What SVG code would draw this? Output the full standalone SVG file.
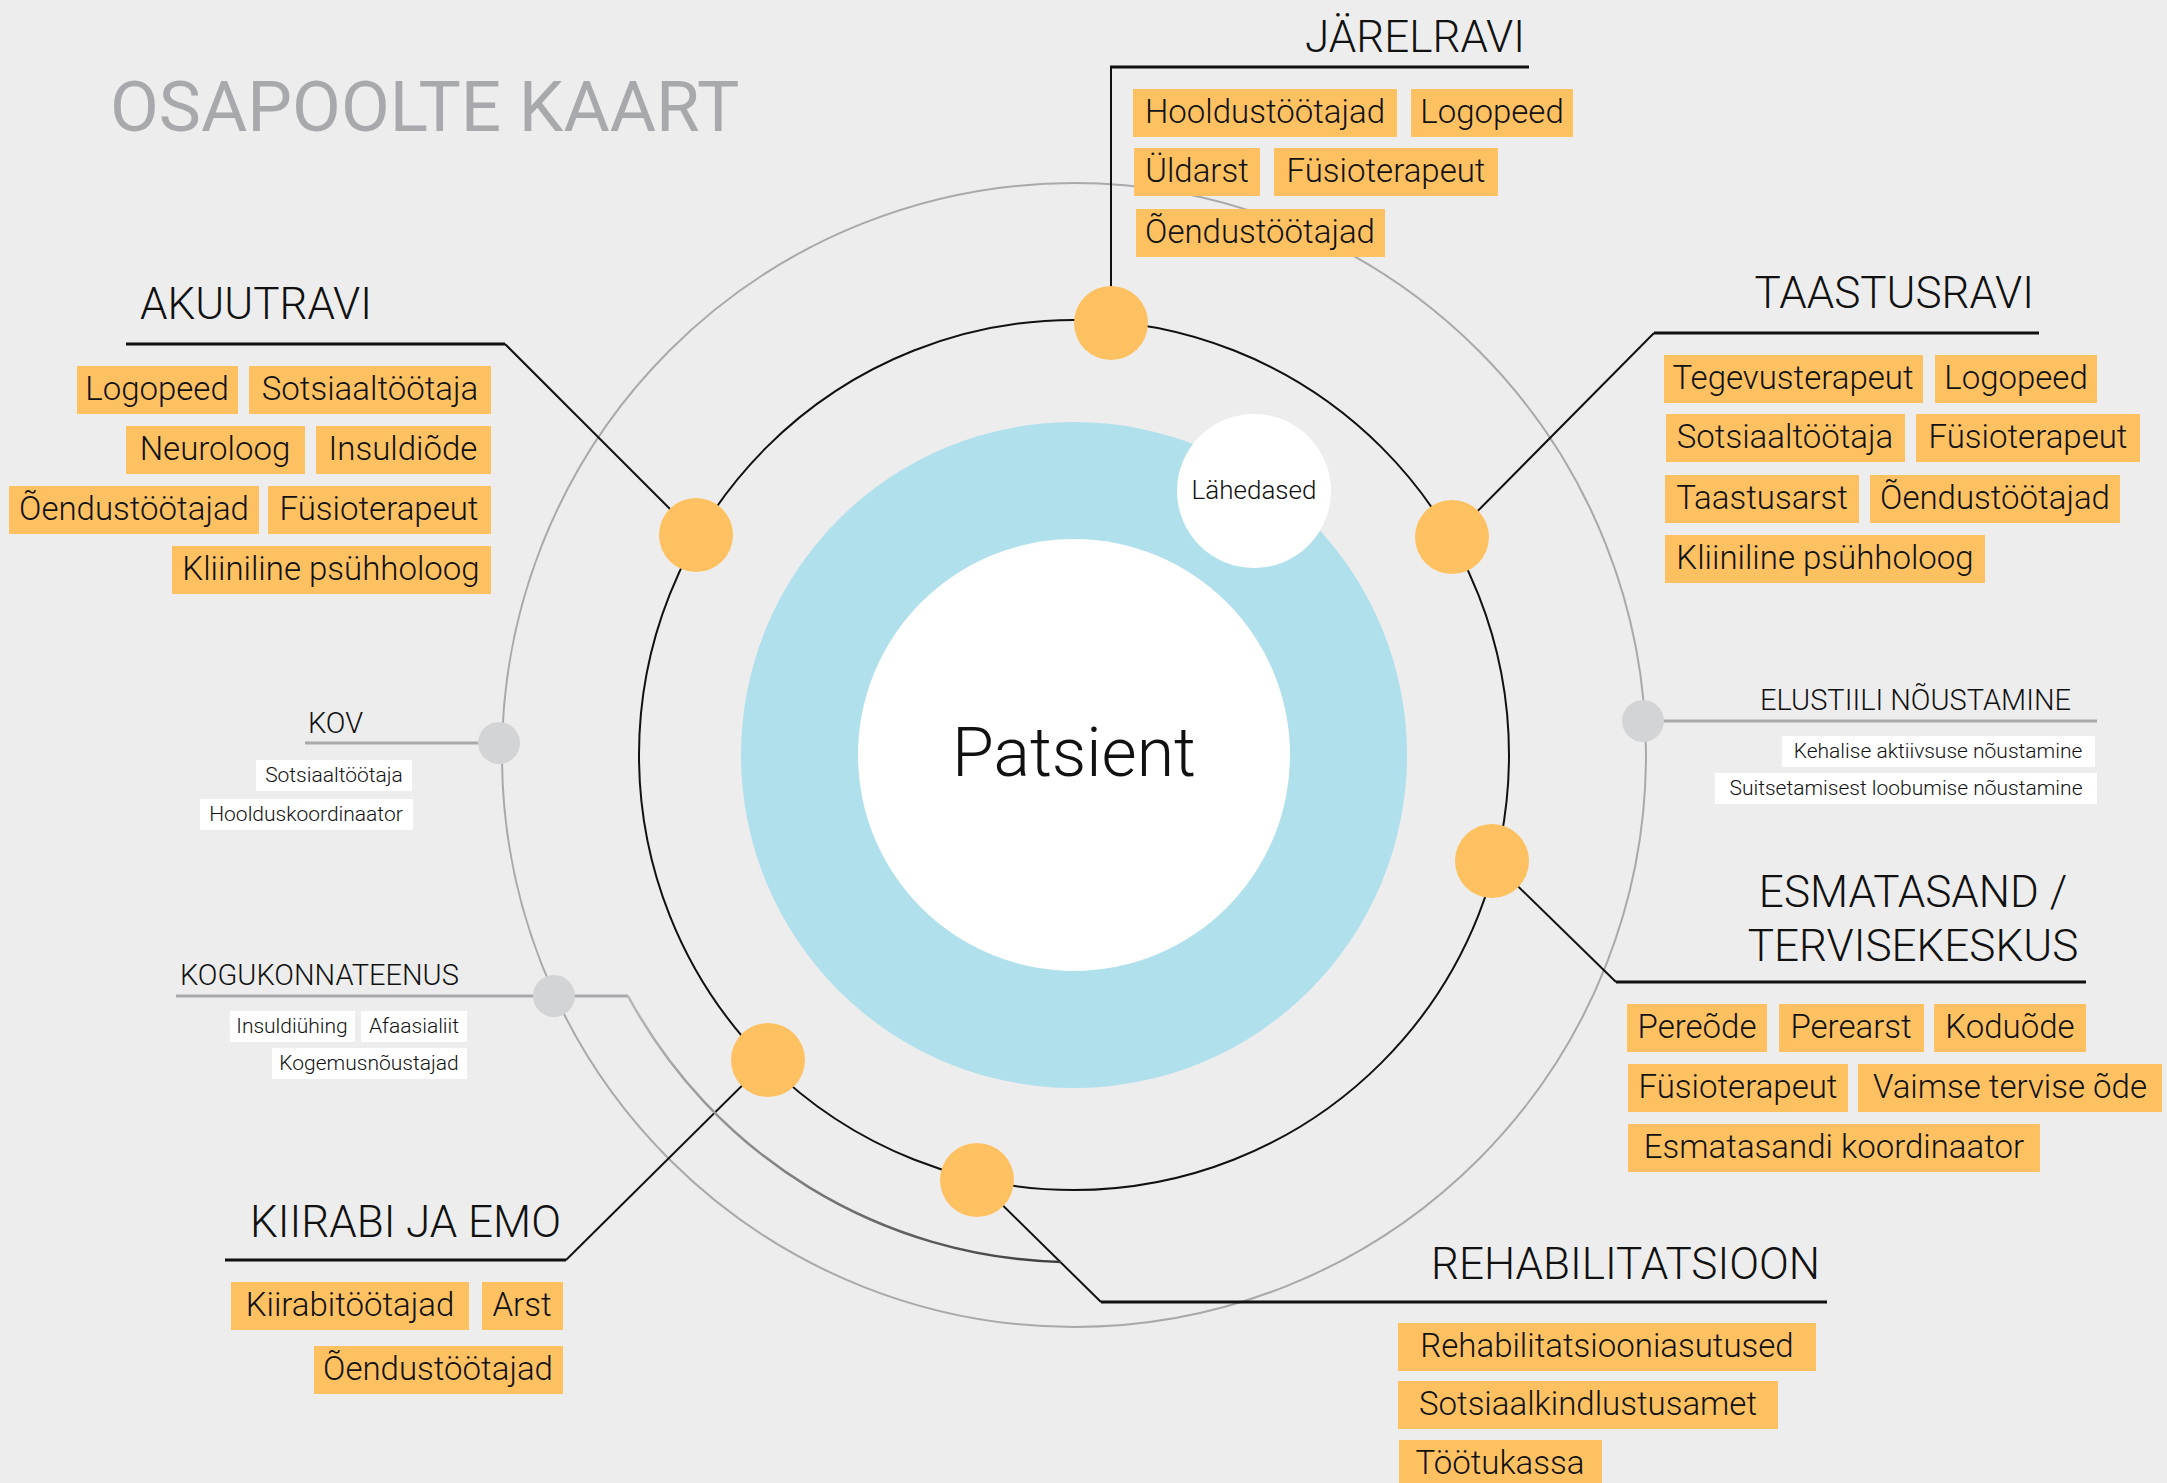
<svg xmlns="http://www.w3.org/2000/svg" width="2167" height="1483" viewBox="0 0 2167 1483">
  <defs>
    <style>
      .bg { fill: #ededed; }
      .ring-outer { fill: none; stroke: #a9a9ab; stroke-width: 2; }
      .ring-stage { fill: none; stroke: #111; stroke-width: 2; }
      .lead { fill: none; stroke: #111; stroke-width: 2; }
      .under { fill: none; stroke: #111; stroke-width: 3; }
      .lead-grey { fill: none; stroke: #a7a9ac; stroke-width: 3; }
      .dot { fill: #fdc162; }
      .dot-grey { fill: #d3d4d6; }
      .tag { fill: #fdc162; }
      .tag-white { fill: #ffffff; }
      text { font-family: Roboto, "Liberation Sans", sans-serif; fill: #111; }
      .title { font-size: 71px; font-weight: 400; fill: #a7a9ac; }
      .head { font-size: 44px; font-weight: 300; }
      .head-sm { font-size: 29px; font-weight: 300; }
      .tag-t { font-size: 33px; font-weight: 300; text-anchor: middle; }
      .tag-s { font-size: 21px; font-weight: 300; text-anchor: middle; }
      .end { text-anchor: end; }
      .mid { text-anchor: middle; }
    </style>
    <linearGradient id="communityArc" gradientUnits="userSpaceOnUse" x1="628" y1="996" x2="1061" y2="1262">
      <stop offset="0" stop-color="#b8b8b8"/>
      <stop offset="1" stop-color="#3c3c3c"/>
    </linearGradient>
  </defs>

  <rect class="bg" x="0" y="0" width="2167" height="1483"/>

  <text class="title" x="110" y="131">OSAPOOLTE KAART</text>

  <!-- concentric rings around the patient -->
  <g id="rings">
    <circle class="ring-outer" cx="1074" cy="755" r="572"/>
    <circle class="ring-stage" cx="1074" cy="755" r="435"/>
  </g>

  <g id="patsient">
    <circle cx="1074" cy="755" r="333" fill="#b0e0ec"/>
    <circle cx="1074" cy="755" r="216" fill="#ffffff"/>
    <text class="mid" x="1074" y="776" style="font-size:68px;font-weight:300">Patsient</text>
  </g>

  <g id="lahedased">
    <circle cx="1254" cy="491" r="77" fill="#ffffff"/>
    <text class="mid" x="1254" y="499" style="font-size:26px;font-weight:300">Lähedased</text>
  </g>

  <!-- leader lines from stage dots to their headings -->
  <g id="connectors">
    <polyline class="lead" points="1111,323 1111,67"/>
    <line class="under" x1="1110" y1="67" x2="1529" y2="67"/>
    <polyline class="lead" points="696,535 505,344"/>
    <line class="under" x1="126" y1="344" x2="505" y2="344"/>
    <polyline class="lead" points="1452,537 1654,333"/>
    <line class="under" x1="1654" y1="333" x2="2039" y2="333"/>
    <polyline class="lead" points="1492,861 1616,982"/>
    <line class="under" x1="1616" y1="982" x2="2086" y2="982"/>
    <polyline class="lead" points="768,1060 566,1260"/>
    <line class="under" x1="225" y1="1260" x2="566" y2="1260"/>
    <polyline class="lead" points="977,1180 1101,1302"/>
    <line class="under" x1="1101" y1="1302" x2="1827" y2="1302"/>
    <line class="lead-grey" x1="1642" y1="721" x2="2097" y2="721"/>
    <line class="lead-grey" x1="305" y1="743" x2="499" y2="743"/>
    <line class="lead-grey" x1="176" y1="996" x2="628" y2="996"/>
    <path d="M628 996 A507 507 0 0 0 1061 1262" fill="none" stroke="url(#communityArc)" stroke-width="2.5"/>
  </g>

  <g id="jarelravi">
    <circle class="dot" cx="1111" cy="323" r="37"/>
    <text class="head end" x="1525" y="52">JÄRELRAVI</text>
    <rect class="tag" x="1133" y="89" width="264" height="48"/><text class="tag-t" x="1265" y="123">Hooldustöötajad</text>
    <rect class="tag" x="1411" y="89" width="162" height="48"/><text class="tag-t" x="1492" y="123">Logopeed</text>
    <rect class="tag" x="1134" y="148" width="126" height="48"/><text class="tag-t" x="1197" y="182">Üldarst</text>
    <rect class="tag" x="1274" y="148" width="224" height="48"/><text class="tag-t" x="1386" y="182">Füsioterapeut</text>
    <rect class="tag" x="1136" y="209" width="249" height="48"/><text class="tag-t" x="1260" y="243">Õendustöötajad</text>
  </g>

  <g id="akuutravi">
    <circle class="dot" cx="696" cy="535" r="37"/>
    <text class="head" x="140" y="319">AKUUTRAVI</text>
    <rect class="tag" x="77" y="366" width="161" height="48"/><text class="tag-t" x="157" y="400">Logopeed</text>
    <rect class="tag" x="249" y="366" width="242" height="48"/><text class="tag-t" x="370" y="400">Sotsiaaltöötaja</text>
    <rect class="tag" x="126" y="426" width="179" height="48"/><text class="tag-t" x="215" y="460">Neuroloog</text>
    <rect class="tag" x="316" y="426" width="175" height="48"/><text class="tag-t" x="403" y="460">Insuldiõde</text>
    <rect class="tag" x="9" y="486" width="250" height="48"/><text class="tag-t" x="134" y="520">Õendustöötajad</text>
    <rect class="tag" x="268" y="486" width="223" height="48"/><text class="tag-t" x="379" y="520">Füsioterapeut</text>
    <rect class="tag" x="172" y="546" width="319" height="48"/><text class="tag-t" x="331" y="580">Kliiniline psühholoog</text>
  </g>

  <g id="taastusravi">
    <circle class="dot" cx="1452" cy="537" r="37"/>
    <text class="head end" x="2034" y="308">TAASTUSRAVI</text>
    <rect class="tag" x="1664" y="355" width="259" height="48"/><text class="tag-t" x="1793" y="389">Tegevusterapeut</text>
    <rect class="tag" x="1935" y="355" width="162" height="48"/><text class="tag-t" x="2016" y="389">Logopeed</text>
    <rect class="tag" x="1666" y="414" width="239" height="48"/><text class="tag-t" x="1785" y="448">Sotsiaaltöötaja</text>
    <rect class="tag" x="1916" y="414" width="224" height="48"/><text class="tag-t" x="2028" y="448">Füsioterapeut</text>
    <rect class="tag" x="1665" y="475" width="194" height="48"/><text class="tag-t" x="1762" y="509">Taastusarst</text>
    <rect class="tag" x="1870" y="475" width="250" height="48"/><text class="tag-t" x="1995" y="509">Õendustöötajad</text>
    <rect class="tag" x="1665" y="535" width="320" height="48"/><text class="tag-t" x="1825" y="569">Kliiniline psühholoog</text>
  </g>

  <g id="esmatasand">
    <circle class="dot" cx="1492" cy="861" r="37"/>
    <text class="head mid" x="1913" y="907">ESMATASAND /</text>
    <text class="head mid" x="1913" y="961">TERVISEKESKUS</text>
    <rect class="tag" x="1627" y="1004" width="140" height="48"/><text class="tag-t" x="1697" y="1038">Pereõde</text>
    <rect class="tag" x="1779" y="1004" width="145" height="48"/><text class="tag-t" x="1851" y="1038">Perearst</text>
    <rect class="tag" x="1934" y="1004" width="152" height="48"/><text class="tag-t" x="2010" y="1038">Koduõde</text>
    <rect class="tag" x="1628" y="1064" width="220" height="48"/><text class="tag-t" x="1738" y="1098">Füsioterapeut</text>
    <rect class="tag" x="1858" y="1064" width="304" height="48"/><text class="tag-t" x="2010" y="1098">Vaimse tervise õde</text>
    <rect class="tag" x="1628" y="1124" width="412" height="48"/><text class="tag-t" x="1834" y="1158">Esmatasandi koordinaator</text>
  </g>

  <g id="kiirabi">
    <circle class="dot" cx="768" cy="1060" r="37"/>
    <text class="head end" x="561" y="1237">KIIRABI JA EMO</text>
    <rect class="tag" x="231" y="1282" width="238" height="48"/><text class="tag-t" x="350" y="1316">Kiirabitöötajad</text>
    <rect class="tag" x="482" y="1282" width="81" height="48"/><text class="tag-t" x="522" y="1316">Arst</text>
    <rect class="tag" x="314" y="1346" width="249" height="48"/><text class="tag-t" x="438" y="1380">Õendustöötajad</text>
  </g>

  <g id="rehabilitatsioon">
    <circle class="dot" cx="977" cy="1180" r="37"/>
    <text class="head end" x="1820" y="1279">REHABILITATSIOON</text>
    <rect class="tag" x="1398" y="1323" width="418" height="48"/><text class="tag-t" x="1607" y="1357">Rehabilitatsiooniasutused</text>
    <rect class="tag" x="1398" y="1381" width="380" height="48"/><text class="tag-t" x="1588" y="1415">Sotsiaalkindlustusamet</text>
    <rect class="tag" x="1399" y="1440" width="203" height="48"/><text class="tag-t" x="1500" y="1474">Töötukassa</text>
  </g>

  <g id="elustiil">
    <circle class="dot-grey" cx="1643" cy="721" r="21"/>
    <text class="head-sm end" x="2071" y="710">ELUSTIILI NÕUSTAMINE</text>
    <rect class="tag-white" x="1782" y="736" width="313" height="31"/><text class="tag-s" x="1938" y="758">Kehalise aktiivsuse nõustamine</text>
    <rect class="tag-white" x="1715" y="773" width="382" height="31"/><text class="tag-s" x="1906" y="795">Suitsetamisest loobumise nõustamine</text>
  </g>

  <g id="kov">
    <circle class="dot-grey" cx="499" cy="743" r="21"/>
    <text class="head-sm" x="308" y="733">KOV</text>
    <rect class="tag-white" x="256" y="760" width="156" height="31"/><text class="tag-s" x="334" y="782">Sotsiaaltöötaja</text>
    <rect class="tag-white" x="200" y="799" width="213" height="31"/><text class="tag-s" x="306" y="821">Hoolduskoordinaator</text>
  </g>

  <g id="kogukonnateenus">
    <circle class="dot-grey" cx="554" cy="996" r="21"/>
    <text class="head-sm" x="180" y="985">KOGUKONNATEENUS</text>
    <rect class="tag-white" x="230" y="1011" width="125" height="31"/><text class="tag-s" x="292" y="1033">Insuldiühing</text>
    <rect class="tag-white" x="361" y="1011" width="106" height="31"/><text class="tag-s" x="414" y="1033">Afaasialiit</text>
    <rect class="tag-white" x="272" y="1048" width="195" height="31"/><text class="tag-s" x="369" y="1070">Kogemusnõustajad</text>
  </g>
</svg>
